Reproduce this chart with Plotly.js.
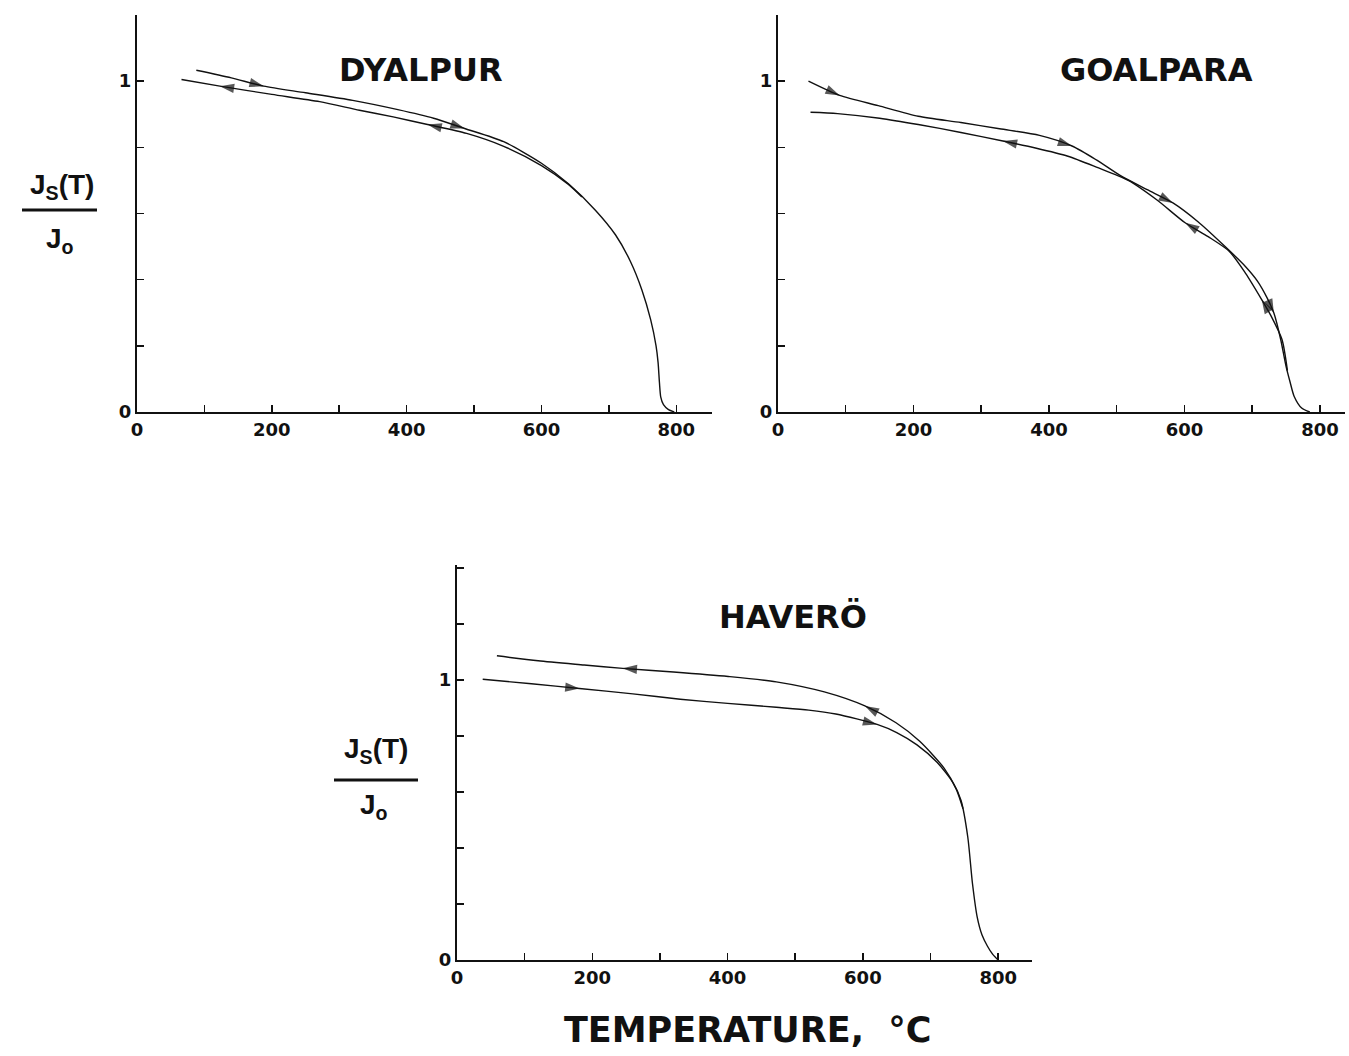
<!DOCTYPE html>
<html>
<head>
<meta charset="utf-8">
<script src="https://cdn.plot.ly/plotly-3.0.1.min.js"></script>
<style>
html,body{margin:0;padding:0;background:#fff;}
#chart{width:1349px;height:1056px;}
</style>
</head>
<body>
<div id="chart"></div>
<script>
// ---------- DATA ----------
var xTickVals = [0, 200, 400, 600, 800];
var xTickText = ['0', '200', '400', '600', '800'];
var xMinorVals = [100, 300, 500, 700];
var yTickVals = [0, 1];
var yTickText = ['0', '1'];
var yMinorValsTop = [0.2, 0.4, 0.6, 0.8, 1.2];
var yMinorValsBot = [0.2, 0.4, 0.6, 0.8, 1.2, 1.4];

var panelTitles = ['DYALPUR', 'GOALPARA', 'HAVERÖ'];
var xTitle = 'TEMPERATURE,  °C';

// Dyalpur heating (upper curve, left to right)
var dyHeatT = [88, 140, 188, 250, 320, 387, 440, 486, 544, 600, 640, 680, 710, 732, 749, 762, 770, 773, 775, 777, 781, 788, 797];
var dyHeatJ = [1.033, 1.010, 0.985, 0.965, 0.942, 0.914, 0.888, 0.857, 0.817, 0.752, 0.690, 0.610, 0.535, 0.455, 0.369, 0.279, 0.200, 0.150, 0.090, 0.045, 0.022, 0.008, 0.0];
var dyHeatArrowT = [188, 486];
// Dyalpur cooling (lower curve, right to left)
var dyCoolT = [660, 640, 600, 544, 489, 431, 380, 330, 271, 200, 123, 66];
var dyCoolJ = [0.650, 0.688, 0.745, 0.803, 0.842, 0.869, 0.892, 0.912, 0.938, 0.960, 0.985, 1.005];
var dyCoolArrowT = [431, 123];

// Goalpara heating (upper curve, left to right)
var goHeatT = [45, 91, 148, 207, 270, 327, 386, 434, 470, 505, 545, 583, 620, 660, 690, 708, 722, 732, 742, 750, 756, 762, 773, 785];
var goHeatJ = [1.0, 0.957, 0.926, 0.894, 0.875, 0.856, 0.836, 0.804, 0.762, 0.715, 0.672, 0.632, 0.575, 0.500, 0.440, 0.395, 0.345, 0.299, 0.220, 0.138, 0.090, 0.047, 0.012, 0.0];
var goHeatArrowT = [91, 434, 583, 732];
// Goalpara cooling (lower curve, right to left)
var goCoolT = [752, 744, 728, 714, 690, 666, 635, 601, 560, 517, 470, 428, 380, 332, 270, 207, 150, 88, 48];
var goCoolJ = [0.125, 0.219, 0.290, 0.340, 0.420, 0.486, 0.530, 0.572, 0.640, 0.700, 0.740, 0.773, 0.798, 0.819, 0.845, 0.869, 0.888, 0.902, 0.906];
var goCoolArrowT = [714, 601, 332];

// Haverö heating (lower curve, left to right)
var haHeatT = [38, 110, 181, 260, 330, 400, 472, 520, 560, 621, 650, 680, 710, 734, 745, 755, 762, 769, 776, 784, 792, 800];
var haHeatJ = [1.002, 0.986, 0.969, 0.950, 0.931, 0.916, 0.902, 0.892, 0.878, 0.841, 0.812, 0.768, 0.705, 0.630, 0.570, 0.440, 0.273, 0.153, 0.090, 0.050, 0.020, 0.0];
var haHeatArrowT = [181, 621];
// Haverö cooling (upper curve, right to left)
var haCoolT = [748, 738, 720, 684, 649, 603, 543, 472, 401, 320, 245, 188, 120, 59];
var haCoolJ = [0.540, 0.610, 0.685, 0.781, 0.847, 0.907, 0.957, 0.993, 1.012, 1.028, 1.041, 1.053, 1.068, 1.086];
var haCoolArrowT = [603, 245];

// ---------- BUILD ----------
var W = 1349, H = 1056;
function px(x){ return x / W; }
function py(y){ return 1 - y / H; }

function curve(T, J, arrowT, xa, ya){
  var sizes = T.map(function(t){ return arrowT.indexOf(t) >= 0 ? 15 : 0; });
  return {
    x: T, y: J, xaxis: xa, yaxis: ya,
    type: 'scatter', mode: 'lines+markers',
    line: {color: '#111', width: 1.4, shape: 'spline', smoothing: 0.7},
    marker: {symbol: 'arrow', size: sizes, color: '#111', angleref: 'previous',
             line: {width: 0}},
    hoverinfo: 'skip', showlegend: false
  };
}

var traces = [
  curve(dyHeatT, dyHeatJ, dyHeatArrowT, 'x', 'y'),
  curve(dyCoolT, dyCoolJ, dyCoolArrowT, 'x', 'y'),
  curve(goHeatT, goHeatJ, goHeatArrowT, 'x2', 'y2'),
  curve(goCoolT, goCoolJ, goCoolArrowT, 'x2', 'y2'),
  curve(haHeatT, haHeatJ, haHeatArrowT, 'x3', 'y3'),
  curve(haCoolT, haCoolJ, haCoolArrowT, 'x3', 'y3')
];

var tickFont = {family: 'DejaVu Sans', size: 18, color: '#111', weight: 'bold'};

function xAxis(d0, d1, rmax, anchor){
  return {
    domain: [px(d0), px(d1)], range: [0, rmax], anchor: anchor,
    showline: true, linecolor: '#111', linewidth: 2,
    ticks: 'inside', ticklen: 7, tickwidth: 1.5, tickcolor: '#111',
    tickmode: 'array', tickvals: xTickVals, ticktext: xTickText,
    minor: {tickmode: 'array', tickvals: xMinorVals, ticks: 'inside', ticklen: 7, tickwidth: 1.5, tickcolor: '#111', showgrid: false},
    tickfont: tickFont, showgrid: false, zeroline: false, fixedrange: true
  };
}
function yAxis(d0, d1, rmax, anchor, minorVals){
  return {
    domain: [py(d1), py(d0)], range: [0, rmax], anchor: anchor,
    showline: true, linecolor: '#111', linewidth: 2,
    ticks: 'inside', ticklen: 7, tickwidth: 1.5, tickcolor: '#111',
    tickmode: 'array', tickvals: yTickVals, ticktext: yTickText,
    minor: {tickmode: 'array', tickvals: minorVals, ticks: 'inside', ticklen: 7, tickwidth: 1.5, tickcolor: '#111', showgrid: false},
    tickfont: tickFont, showgrid: false, zeroline: false, fixedrange: true
  };
}

var titleFont = {family: 'DejaVu Sans', size: 32, color: '#111', weight: 'bold'};
var fracFont = {family: 'Liberation Sans', size: 28, color: '#111', weight: 'bold'};

function frac(cx, yTop, yLine, yBot, x0, x1){
  return {
    ann: [
      {xref: 'paper', yref: 'paper', x: px(cx), y: py(yTop), text: '<b>J<sub>S</sub>(T)</b>',
       showarrow: false, font: fracFont, xanchor: 'center', yanchor: 'middle'},
      {xref: 'paper', yref: 'paper', x: px(cx - 2), y: py(yBot), text: '<b>J<sub>o</sub></b>',
       showarrow: false, font: fracFont, xanchor: 'center', yanchor: 'middle'}
    ],
    shape: {type: 'line', xref: 'paper', yref: 'paper', x0: px(x0), x1: px(x1),
            y0: py(yLine), y1: py(yLine), line: {color: '#111', width: 3}}
  };
}

var f1 = frac(62, 186, 210, 240, 22, 97);
var f2 = frac(376, 750, 780, 806, 334, 418);

var annotations = [
  {xref: 'paper', yref: 'paper', x: px(421), y: py(70), text: panelTitles[0], showarrow: false,
   font: titleFont, xanchor: 'center', yanchor: 'middle'},
  {xref: 'paper', yref: 'paper', x: px(1156), y: py(70), text: panelTitles[1], showarrow: false,
   font: titleFont, xanchor: 'center', yanchor: 'middle'},
  {xref: 'paper', yref: 'paper', x: px(793), y: py(617), text: panelTitles[2], showarrow: false,
   font: titleFont, xanchor: 'center', yanchor: 'middle'},
  {xref: 'paper', yref: 'paper', x: px(748), y: py(1030), text: xTitle, showarrow: false,
   font: {family: 'DejaVu Sans', size: 35, color: '#111', weight: 'bold'}, xanchor: 'center', yanchor: 'middle'}
].concat(f1.ann, f2.ann);

var layout = {
  width: W, height: H, autosize: false,
  margin: {l: 0, r: 0, t: 0, b: 0, pad: 0},
  paper_bgcolor: '#fff', plot_bgcolor: 'rgba(0,0,0,0)',
  showlegend: false,
  xaxis: xAxis(137, 712, 853, 'y'),
  yaxis: yAxis(15, 412, 1.2, 'x', yMinorValsTop),
  xaxis2: xAxis(778, 1345, 837, 'y2'),
  yaxis2: yAxis(15, 412, 1.2, 'x2', yMinorValsTop),
  xaxis3: xAxis(457, 1032, 850, 'y3'),
  yaxis3: yAxis(565, 960, 1.41, 'x3', yMinorValsBot),
  annotations: annotations,
  shapes: [f1.shape, f2.shape]
};

Plotly.newPlot('chart', traces, layout, {staticPlot: true, displayModeBar: false});
</script>
</body>
</html>
